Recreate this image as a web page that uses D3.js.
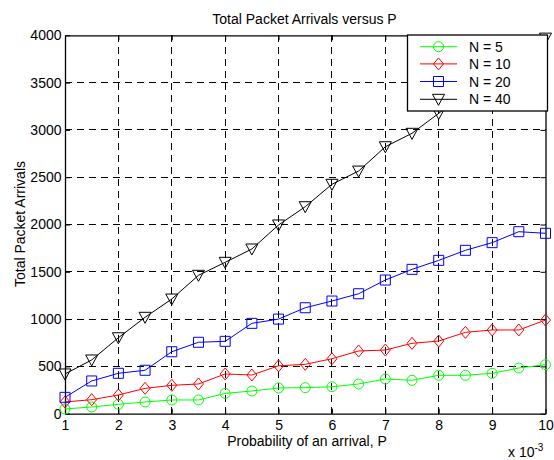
<!DOCTYPE html>
<html><head><meta charset="utf-8">
<script src="https://cdn.jsdelivr.net/npm/d3@7"></script>
<style>body{margin:0;background:#fff;}svg{display:block;font-family:"Liberation Sans",Arial,sans-serif;}</style>
</head><body>
<svg id="c" width="554" height="460"></svg>
<script>
const P = [1,1.5,2,2.5,3,3.5,4,4.5,5,5.5,6,6.5,7,7.5,8,8.5,9,9.5,10];
const n5  = [50,71,99,124,145,145,215,240,272,275,285,314,367,353,406,406,427,483,518];
const n10 = [124,148,198,268,300,314,420,409,506,522,581,663,673,744,768,860,885,885,990];
const n20 = [173,346,427,459,655,755,765,955,1000,1120,1191,1268,1413,1526,1621,1727,1808,1924,1907];
const n40 = [420,568,803,1019,1212,1463,1600,1741,1995,2188,2425,2565,2822,2964,3175,3400,3600,3800,3970];
const seriesNames = ["N = 5","N = 10","N = 20","N = 40"];
const seriesColors = ["#00ff00","#ff0000","#0000ff","#000000"];
const seriesMarkers = ["circle","diamond","square","triangle"];
const xTicks = [1,2,3,4,5,6,7,8,9,10];
const yTicks = [0,500,1000,1500,2000,2500,3000,3500,4000];

const svg = d3.select("#c");
const L=65, R=545.5, T=35.3, B=413.7;
const x = d3.scaleLinear().domain([1,10]).range([L,R]);
const y = d3.scaleLinear().domain([0,4000]).range([B,T]);

// grid
const g = svg.append("g");
g.selectAll(".gx").data(xTicks.slice(1,-1)).enter().append("line")
 .attr("x1",d=>x(d)).attr("x2",d=>x(d)).attr("y1",B).attr("y2",T)
 .attr("stroke","#000").attr("stroke-width",1).attr("stroke-dasharray","7,5").attr("shape-rendering","crispEdges");
g.selectAll(".gy").data(yTicks.slice(1,-1)).enter().append("line")
 .attr("y1",d=>y(d)).attr("y2",d=>y(d)).attr("x1",L).attr("x2",R)
 .attr("stroke","#000").attr("stroke-width",1).attr("stroke-dasharray","7,5").attr("shape-rendering","crispEdges");

// axes
const fs = "14px";
const ax = svg.append("g").attr("transform",`translate(0,${B})`)
 .call(d3.axisBottom(x).tickValues(xTicks).tickFormat(d3.format("d")).tickSizeInner(-5).tickSizeOuter(0).tickPadding(6));
const axt = svg.append("g").attr("transform",`translate(0,${T})`)
 .call(d3.axisTop(x).tickValues(xTicks).tickFormat("").tickSizeInner(-5).tickSizeOuter(0));
const ay = svg.append("g").attr("transform",`translate(${L},0)`)
 .call(d3.axisLeft(y).tickValues(yTicks).tickFormat(d3.format("d")).tickSizeInner(-5).tickSizeOuter(0).tickPadding(3.5));
const ayr = svg.append("g").attr("transform",`translate(${R},0)`)
 .call(d3.axisRight(y).tickValues(yTicks).tickFormat("").tickSizeInner(-5).tickSizeOuter(0));
[ax,axt,ay,ayr].forEach(a=>{
  a.selectAll("text").attr("font-size",fs).attr("fill","#000").attr("font-family","Liberation Sans, Arial, sans-serif");
  a.selectAll("line").attr("stroke","#000");
  a.select(".domain").attr("stroke","#000").attr("stroke-width",1.3);
});

// marker shapes
function markerPath(type){
  if(type==="circle") return d3.symbol().type(d3.symbolCircle).size(Math.PI*25)();
  if(type==="square") return "M-5,-5L5,-5L5,5L-5,5Z";
  if(type==="diamond") return "M0,-6L5,0L0,6L-5,0Z";
  return "M-6,-5L6,-5L0,6Z";
}

const allData = [n5,n10,n20,n40];
const line = d3.line().x((d,i)=>x(P[i])).y(d=>y(d));
allData.forEach((vals,k)=>{
  const sg = svg.append("g");
  sg.append("path").datum(vals).attr("d",line).attr("fill","none")
    .attr("stroke",seriesColors[k]).attr("stroke-width",1);
  sg.selectAll("path.m").data(vals).enter().append("path").attr("class","m")
    .attr("d",markerPath(seriesMarkers[k]))
    .attr("transform",(d,i)=>`translate(${x(P[i])},${y(d)})`)
    .attr("fill","none").attr("stroke",seriesColors[k]).attr("stroke-width",1);
});

// legend
const lg = svg.append("g");
lg.append("rect").attr("x",407.5).attr("y",35).attr("width",140).attr("height",76)
  .attr("fill","#fff").attr("stroke","#000").attr("stroke-width",1.3);
const rowY = [46.7,63.9,81.5,99.3];
seriesNames.forEach((nm,k)=>{
  lg.append("line").attr("x1",420).attr("x2",457).attr("y1",rowY[k]).attr("y2",rowY[k])
    .attr("stroke",seriesColors[k]).attr("stroke-width",1);
  lg.append("path").attr("d",markerPath(seriesMarkers[k]))
    .attr("transform",`translate(438.5,${rowY[k]})`)
    .attr("fill","none").attr("stroke",seriesColors[k]);
  lg.append("text").attr("x",469).attr("y",rowY[k]+5).attr("font-size",fs).attr("fill","#000").text(nm);
});

// titles
svg.append("text").attr("x",304.5).attr("y",24).attr("text-anchor","middle").attr("font-size",fs).text("Total Packet Arrivals versus P");
svg.append("text").attr("x",307).attr("y",446).attr("text-anchor","middle").attr("font-size",fs).text("Probability of an arrival, P");
svg.append("text").attr("transform","translate(25,224) rotate(-90)").attr("text-anchor","middle").attr("font-size",fs).text("Total Packet Arrivals");
const ex = svg.append("text").attr("x",508).attr("y",457).attr("font-size",fs);
ex.append("tspan").text("x 10");
ex.append("tspan").attr("dy",-6).attr("font-size","10px").text("-3");
</script>
</body></html>
